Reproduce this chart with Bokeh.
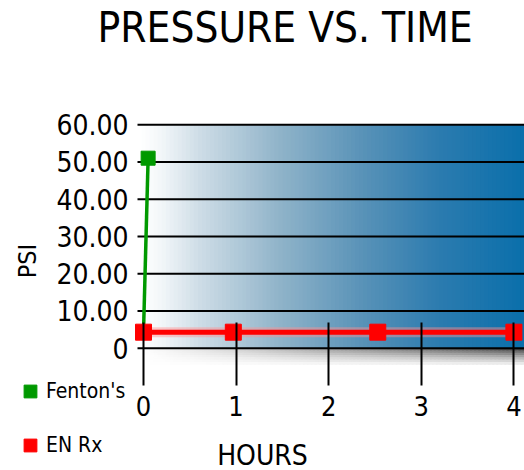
from bokeh.plotting import figure
from bokeh.models import Title, Legend, LegendItem, FixedTicker, Range1d, LinearAxis
from bokeh.embed import file_html
from bokeh.resources import INLINE

# ---- data ----
fenton_hours = [0.0, 0.05]
fenton_psi = [4.3, 51.0]
enrx_hours = [0.0, 0.97, 2.53, 4.0]
enrx_psi = [4.3, 4.3, 4.3, 4.3]
y_ticks = [0, 10, 20, 30, 40, 50, 60]
y_tick_labels = ["0", "10.00", "20.00", "30.00", "40.00", "50.00", "60.00"]
x_ticks = [0, 1, 2, 3, 4]
x_tick_labels = ["0", "1", "2", "3", "4"]

FONT = "DejaVu Sans Condensed"

# layout constants (canvas pixels)
W, H = 524, 470
PX_X0 = 143.0      # x of hour 0
PX_PER_H = 92.6
PX_Y0 = 348.0      # y of 0 psi
PX_PER_PSI = 3.717
TITLE_H = 52.0     # title panel height (measured)

def px2x(px):
    return (px - PX_X0) / PX_PER_H

def py2y(py):
    return (PX_Y0 - py) / PX_PER_PSI

X0, X1 = px2x(0), px2x(W)
Y0, Y1 = py2y(H), py2y(TITLE_H)
AXIS_X = px2x(137)
AXIS_Y = py2y(362)

p = figure(width=W, height=H, output_backend="svg", toolbar_location=None,
           x_range=Range1d(X0, X1), y_range=Range1d(Y0, Y1),
           x_axis_type=None, y_axis_type=None,
           min_border_left=0, min_border_right=0, min_border_top=0,
           min_border_bottom=0, title=None)
p.outline_line_color = None
p.background_fill_color = "white"
p.border_fill_color = "white"
p.grid.visible = False

# ---- background gradient (style only) ----
def lerp_stops(t, stops):
    for (t0, c0), (t1, c1) in zip(stops[:-1], stops[1:]):
        if t <= t1:
            f = 0 if t1 == t0 else (t - t0) / (t1 - t0)
            f = min(max(f, 0), 1)
            return tuple(int(round(a + (b - a) * f)) for a, b in zip(c0, c1))
    return stops[-1][1]

def hexrgb(h):
    h = h.lstrip("#")
    return tuple(int(h[i:i + 2], 16) for i in (0, 2, 4))

blue_stops = [(140, hexrgb("#ffffff")), (160, hexrgb("#f3f7f9")), (200, hexrgb("#cddce6")),
              (280, hexrgb("#8fb3c9")), (360, hexrgb("#5a93b8")), (440, hexrgb("#2b7baf")),
              (524, hexrgb("#0a6fab"))]
n = 96
lefts, rights, cols = [], [], []
for i in range(n):
    a = 137 + (W - 137) * i / n
    b = 137 + (W - 137) * (i + 1) / n
    c = lerp_stops((a + b) / 2, blue_stops)
    lefts.append(px2x(a)); rights.append(px2x(b + 2))
    cols.append("#%02x%02x%02x" % c)
p.quad(left=lefts, right=rights, bottom=0, top=60, fill_color=cols, line_color=None, level="image")

# bottom shadow
gray_stops = [(140, hexrgb("#ffffff")), (200, hexrgb("#e4e4e4")), (330, hexrgb("#a0a0a0")),
              (450, hexrgb("#6a6a6a")), (524, hexrgb("#444444"))]
rows = 7
sl, sr, sb, st, sc = [], [], [], [], []
for j in range(rows):
    fade = j / rows
    for i in range(n):
        a = 137 + (W - 137) * i / n
        b = 137 + (W - 137) * (i + 1) / n
        c = lerp_stops((a + b) / 2, gray_stops)
        c = tuple(int(round(v + (255 - v) * fade ** 0.8)) for v in c)
        sl.append(px2x(a)); sr.append(px2x(b + 2))
        top = py2y(348 + 16 * j / rows)
        bot = py2y(348 + 16 * (j + 1) / rows + 0.5)
        sb.append(bot); st.append(top)
        sc.append("#%02x%02x%02x" % c)
p.quad(left=sl, right=sr, bottom=sb, top=st, fill_color=sc, line_color=None, level="image")

# horizontal grid lines at the y ticks
p.segment(x0=[AXIS_X] * len(y_ticks), x1=[X1] * len(y_ticks), y0=y_ticks, y1=y_ticks,
          line_color="black", line_width=2, level="underlay")

# ---- series ----
p.line(enrx_hours, enrx_psi, line_color="#ff9090", line_width=10, line_alpha=0.45)
p.line(enrx_hours, enrx_psi, line_color="#ff0000", line_width=5)
p.line(fenton_hours, fenton_psi, line_color="#009900", line_width=3.5)
g = p.scatter(fenton_hours[1:], fenton_psi[1:], marker="square", size=14,
              fill_color="#009900", line_color="#009900")
r = p.scatter(enrx_hours, enrx_psi, marker="square", size=16,
              fill_color="#ff0000", line_color="#ff0000")

# ---- axes ----
yaxis = LinearAxis(fixed_location=AXIS_X, ticker=FixedTicker(ticks=y_ticks),
                   major_label_overrides={t: l for t, l in zip(y_ticks, y_tick_labels)},
                   axis_line_color=None, major_tick_line_color=None, minor_tick_line_color=None,
                   major_label_standoff=3, major_label_text_font=FONT,
                   major_label_text_font_size="28px", major_label_text_color="black",
                   axis_label="PSI", axis_label_text_font=FONT, axis_label_text_font_size="25px",
                   axis_label_text_font_style="normal", axis_label_text_color="black",
                   axis_label_standoff=11)
p.add_layout(yaxis, "left")

xaxis = LinearAxis(fixed_location=AXIS_Y, ticker=FixedTicker(ticks=x_ticks),
                   major_label_overrides={t: l for t, l in zip(x_ticks, x_tick_labels)},
                   axis_line_color=None, major_tick_line_color="black", major_tick_line_width=2,
                   major_tick_in=40, major_tick_out=23, minor_tick_line_color=None,
                   major_label_standoff=11, major_label_text_font=FONT,
                   major_label_text_font_size="27px", major_label_text_color="black",
                   axis_label="HOURS", axis_label_text_font=FONT, axis_label_text_font_size="28px",
                   axis_label_text_font_style="normal", axis_label_text_color="black",
                   axis_label_standoff=19)
p.add_layout(xaxis, "below")

# ---- title ----
p.add_layout(Title(text="PRESSURE VS. TIME", text_font=FONT, text_font_size="42px",
                   text_font_style="normal", text_color="black", align="left",
                   offset=97, standoff=0), "above")

# ---- legend ----
legend = Legend(items=[LegendItem(label="Fenton's", renderers=[g]),
                       LegendItem(label="EN Rx", renderers=[r])],
                location=(14, 9), orientation="vertical",
                glyph_width=32, glyph_height=32, label_standoff=-7,
                spacing=22, padding=0, margin=0,
                background_fill_alpha=0, border_line_color=None,
                label_text_font=FONT, label_text_font_size="21px",
                label_text_color="black")
p.add_layout(legend, "center")

open("out.html", "w").write(file_html(p, INLINE))
